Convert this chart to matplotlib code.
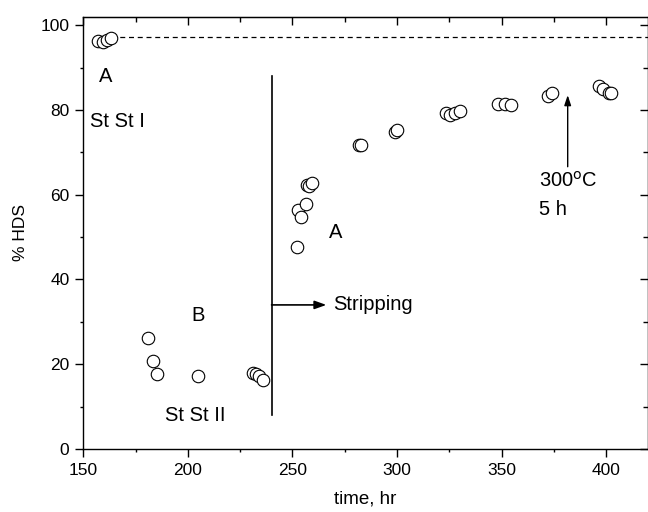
"""% HDS versus time on stream, stripping run"""

import matplotlib.pyplot as plt

plt.rcParams['font.family'] = ['Liberation Sans', 'DejaVu Sans']

# steady state I (before the run)
time_ss1 = [157.2, 159.3, 161.2, 163.1]
hds_ss1 = [96.3, 96.1, 96.6, 96.9]

# steady state II (deactivated)
time_ss2 = [181.0, 183.1, 185.0, 204.9, 230.9, 232.5, 234.1, 236.0]
hds_ss2 = [26.1, 20.8, 17.7, 17.2, 17.9, 17.7, 17.2, 16.3]

# after stripping
time_strip = [252.2, 252.7, 254.3, 256.4, 257.0, 257.9, 259.1, 281.8, 282.9,
              298.9, 300.1, 323.5, 325.1, 327.5, 329.9, 348.2, 351.4, 354.6,
              372.1, 374.0, 396.4, 398.6, 401.3, 402.3]
hds_strip = [47.6, 56.5, 54.8, 57.7, 62.2, 62.0, 62.7, 71.7, 71.7,
             74.7, 75.2, 79.2, 78.9, 79.2, 79.7, 81.5, 81.4, 81.1,
             83.3, 84.0, 85.6, 85.0, 84.0, 84.0]

ss1_level = 97.1
strip_time = 240
strip_span = (8, 88)
strip_arrow_y = 34.0
temp_arrow_x = 381.6

fig = plt.figure(figsize=(6.48, 5.12), dpi=100)
ax = fig.add_axes([0.1286, 0.123, 0.8714, 0.8444])

ax.plot([time_ss1[-1], 420], [ss1_level, ss1_level], color='black', lw=0.9,
        dashes=(4, 3), zorder=1)

marker_style = dict(ls='none', marker='o', ms=9, mfc='white', mec='black', mew=0.8, zorder=3)
ax.plot(time_ss1, hds_ss1, **marker_style)
ax.plot(time_ss2, hds_ss2, **marker_style)
ax.plot(time_strip, hds_strip, **marker_style)

txt = 14.5

# stripping marker
ax.plot([strip_time, strip_time], strip_span, color='black', lw=1.2, zorder=2)
ax.annotate('', xy=(266.2, strip_arrow_y), xytext=(strip_time, strip_arrow_y),
            arrowprops=dict(arrowstyle='-|>,head_length=0.7,head_width=0.25',
                            color='black', lw=1.2, shrinkA=0, shrinkB=0))
ax.text(269.4, strip_arrow_y, 'Stripping', fontsize=txt, va='center', ha='left')

# 300 C treatment
ax.annotate('', xy=(temp_arrow_x, 83.5), xytext=(temp_arrow_x, 66.6),
            arrowprops=dict(arrowstyle='-|>,head_length=0.6,head_width=0.2',
                            color='black', lw=1.0, shrinkA=0, shrinkB=0))
ax.text(368.1, 63.3, '300$^{\\mathrm{o}}$C', fontsize=txt, ha='left', va='center')
ax.text(368.1, 56.4, '5 h', fontsize=txt, ha='left', va='center')

ax.text(160.9, 87.8, 'A', fontsize=txt, ha='center', va='center')
ax.text(153.2, 77.2, 'St St I', fontsize=txt, ha='left', va='center')
ax.text(204.9, 31.6, 'B', fontsize=txt, ha='center', va='center')
ax.text(203.3, 8.0, 'St St II', fontsize=txt, ha='center', va='center')
ax.text(270.7, 51.0, 'A', fontsize=txt, ha='center', va='center')

ax.set_xlim(150, 420)
ax.set_ylim(0, 102)
ax.set_xticks(range(150, 401, 50))
ax.set_xticks(range(175, 420, 50), minor=True)
ax.set_yticks(range(0, 101, 20))
ax.set_yticks(range(10, 101, 20), minor=True)

ax.tick_params(which='both', direction='out', top=False, right=False, labelsize=12.5,
               width=1.0, pad=4)
ax.tick_params(which='major', length=6)
ax.tick_params(which='minor', length=2.5)

# inward ticks on the top and right edges
top = ax.secondary_xaxis('top')
top.set_xticks(range(150, 401, 50))
top.set_xticks(range(175, 420, 50), minor=True)
right = ax.secondary_yaxis('right')
right.set_yticks(range(0, 101, 20))
right.set_yticks(range(10, 101, 20), minor=True)
for twin in (top, right):
    twin.tick_params(which='both', direction='in', labeltop=False, labelright=False,
                     width=1.0)
    twin.tick_params(which='major', length=6)
    twin.tick_params(which='minor', length=3.5)

for spine in ax.spines.values():
    spine.set_linewidth(1.0)

ax.set_xlabel('time, hr', fontsize=13.5, labelpad=9)
ax.set_ylabel('% HDS', fontsize=12.5, labelpad=9)

fig.savefig('out.png', dpi=100)
